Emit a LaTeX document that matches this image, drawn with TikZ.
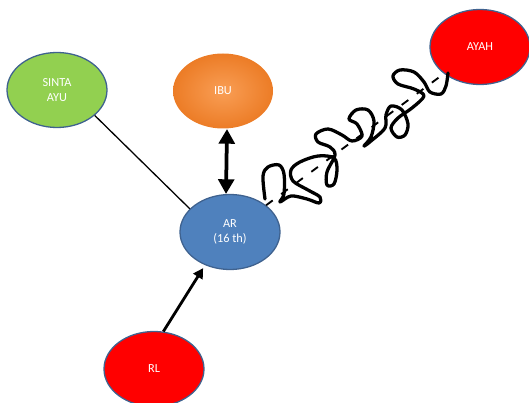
\documentclass[tikz,border=0pt]{standalone}
\usepackage{fontspec}
\setmainfont{Carlito}
\usetikzlibrary{shapes.geometric,arrows.meta}
\definecolor{rimblue}{HTML}{3F628F}
\definecolor{sintagreen}{HTML}{92D050}
\definecolor{arblue}{HTML}{4F81BD}
\definecolor{ibulight}{HTML}{F99E55}
\definecolor{ibudark}{HTML}{EC7C26}
\begin{document}
\begin{tikzpicture}[
  person/.style={ellipse, draw=rimblue, line width=1.1pt, minimum width=3cm, minimum height=2.25cm,
    inner sep=0pt, align=center, text=white, font=\fontsize{10.5}{12.8}\selectfont},
  bigarrow/.style={line width=3.2pt, {Triangle[length=0.44cm,width=0.47cm]}-{Triangle[length=0.44cm,width=0.47cm]}}]
\useasboundingbox (0,0) rectangle (15.87,12.06);
\node[person, fill=sintagreen] (sinta) at (1.71,9.36) {SINTA\\AYU};
\node[person, draw=none, inner color=ibulight, outer color=ibudark] (ibu) at (6.69,9.33) {IBU};
\node[person, fill=arblue] (ar) at (6.90,5.10) {AR\\(16 th)};
\node[person, fill=red] (rl) at (4.62,0.99) {RL};
\node[person, fill=red] (ayah) at (14.40,10.65) {AYAH};
\draw[line width=1.1pt] (sinta.-34) -- (ar.150);
\draw[bigarrow] (ibu.-84) -- (ar.96);
\draw[line width=2.4pt, -{Triangle[length=0.3cm,width=0.32cm]}, shorten >=3pt] (rl.76) -- (ar.-127);
\draw[line width=1.6pt, dash pattern=on 7pt off 9pt] (ar) -- (ayah);
% coretan tangan di atas garis putus-putus
\begin{scope}[shift={(0cm,12.06cm)}, x=0.03cm, y=-0.03cm]
\draw[line width=2.8pt, line cap=round, line join=round] plot[smooth, tension=0.55] coordinates {
  (265,199) (263,176) (268,167) (279,165) (284,174) (284,194) (280,202)
  (291,196) (307,199) (319,203) (320,197) (308,190) (293,181) (291,170)
  (300,162) (318,156) (334,158) (337,170) (334,184) (327,185) (327,172)
  (335,155) (330,147) (318,142) (316,134) (328,129) (342,135) (352,141)
  (362,136) (357,124) (349,119) (356,110) (368,110) (374,121) (371,137)
  (364,146) (371,141) (385,128) (386,115) (391,106) (402,110) (408,124)
  (405,135) (397,137) (391,128) (398,118) (412,108) (424,96) (414,89)
  (398,84) (393,76) (400,70) (414,72) (424,82) (430,92) (441,94)
  (446,86) (448,73)};
\end{scope}
\end{tikzpicture}
\end{document}
